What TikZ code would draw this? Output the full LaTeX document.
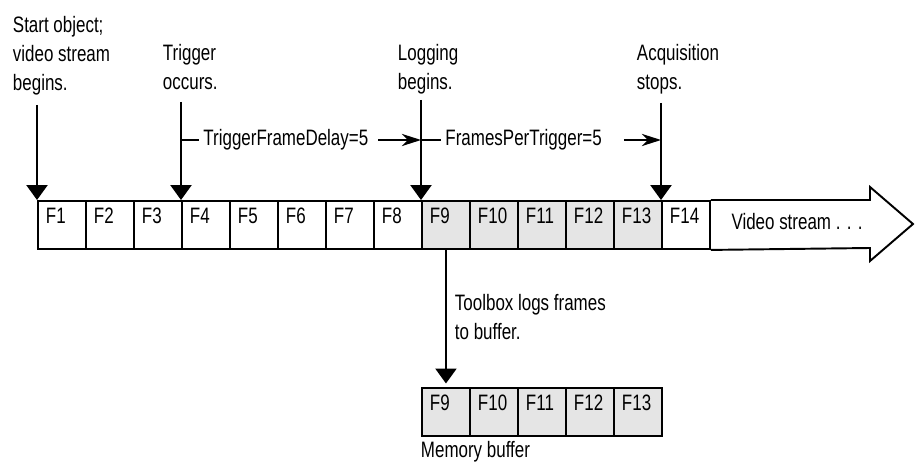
\documentclass[tikz,border=0pt]{standalone}
\usepackage{fontspec}
\setmainfont[FakeStretch=0.76]{Liberation Sans}
\usetikzlibrary{arrows.meta}

\begin{document}
\begin{tikzpicture}[
    x=0.02cm, y=-0.02cm, line width=1.1pt,
    every node/.style={font=\fontsize{12.7}{16.5}\selectfont},
    txt/.style={anchor=north west, align=left, inner sep=0pt},
    lbl/.style={anchor=north west, inner sep=0pt, xshift=0.16cm, yshift=-0.14cm},
    frm/.style={draw, fill=white, anchor=north west, minimum width=0.96cm,
                minimum height=0.96cm, inner sep=0pt, label={[lbl]north west:#1}},
    shd/.style={frm=#1, fill=gray!20},
    dn/.style={-{Triangle[width=12pt, length=8.5pt]}},
    darr/.style={-{Stealth[width=7pt, length=11pt]}},
    dlbl/.style={anchor=west, inner sep=2pt}
]
\useasboundingbox (0,0) rectangle (915,462);

% video stream
\node[frm=F1]  (f1)  at (37,200)  {};
\node[frm=F2]  (f2)  at (85,200)  {};
\node[frm=F3]  (f3)  at (133,200) {};
\node[frm=F4]  (f4)  at (181,200) {};
\node[frm=F5]  (f5)  at (229,200) {};
\node[frm=F6]  (f6)  at (277,200) {};
\node[frm=F7]  (f7)  at (325,200) {};
\node[frm=F8]  (f8)  at (373,200) {};
\node[shd=F9]  (f9)  at (421,200) {};
\node[shd=F10] (f10) at (469,200) {};
\node[shd=F11] (f11) at (517,200) {};
\node[shd=F12] (f12) at (565,200) {};
\node[shd=F13] (f13) at (613,200) {};
\node[frm=F14] (f14) at (661,200) {};

\coordinate (tip) at (913,224);
\draw (f14.north east) -- (870,200) -- (870,187) -- (tip) -- (870,261) -- (870,248) -- (f14.south east);
\node (vid) at (797,222) {Video stream . . .};

% events
\node[txt] (start) at (12,15)  {Start object;\\video stream\\begins.};
\node[txt] (trig)  at (162,43) {Trigger\\occurs.};
\node[txt] (logb)  at (397,43) {Logging\\begins.};
\node[txt] (acq)   at (636,43) {Acquisition\\stops.};

\coordinate (s0) at (37,105);
\coordinate (t0) at (181,102);
\coordinate (l0) at (421,100);
\coordinate (a0) at (661,103);
\draw[dn] (s0) -- (f1.north west);
\draw[dn] (t0) -- (f4.north west);
\draw[dn] (l0) -- (f9.north west);
\draw[dn] (a0) -- (f14.north west);

% delays
\coordinate (d0) at (181,140);
\coordinate (d1) at (421,140);
\coordinate (d2) at (661,140);
\node[dlbl] (delay) at (199,140) {TriggerFrameDelay=5};
\draw (d0) -- (delay);
\draw[darr] ([xshift=3pt]delay.east) -- (d1);
\node[dlbl] (fpt) at (441,140) {FramesPerTrigger=5};
\draw (d1) -- (fpt);
\draw[darr] ([xshift=10pt]fpt.east) -- (d2);

% memory buffer
\node[shd=F9]  (b9)  at (421,387) {};
\node[shd=F10] (b10) at (469,387) {};
\node[shd=F11] (b11) at (517,387) {};
\node[shd=F12] (b12) at (565,387) {};
\node[shd=F13] (b13) at (613,387) {};
\draw[dn, shorten >=2pt] (f9.south) -- (b9.north);
\node[txt] (tbx) at (454,293) {Toolbox logs frames\\to buffer.};
\node[txt] (mem) at (420,440) {Memory buffer};
\end{tikzpicture}
\end{document}
